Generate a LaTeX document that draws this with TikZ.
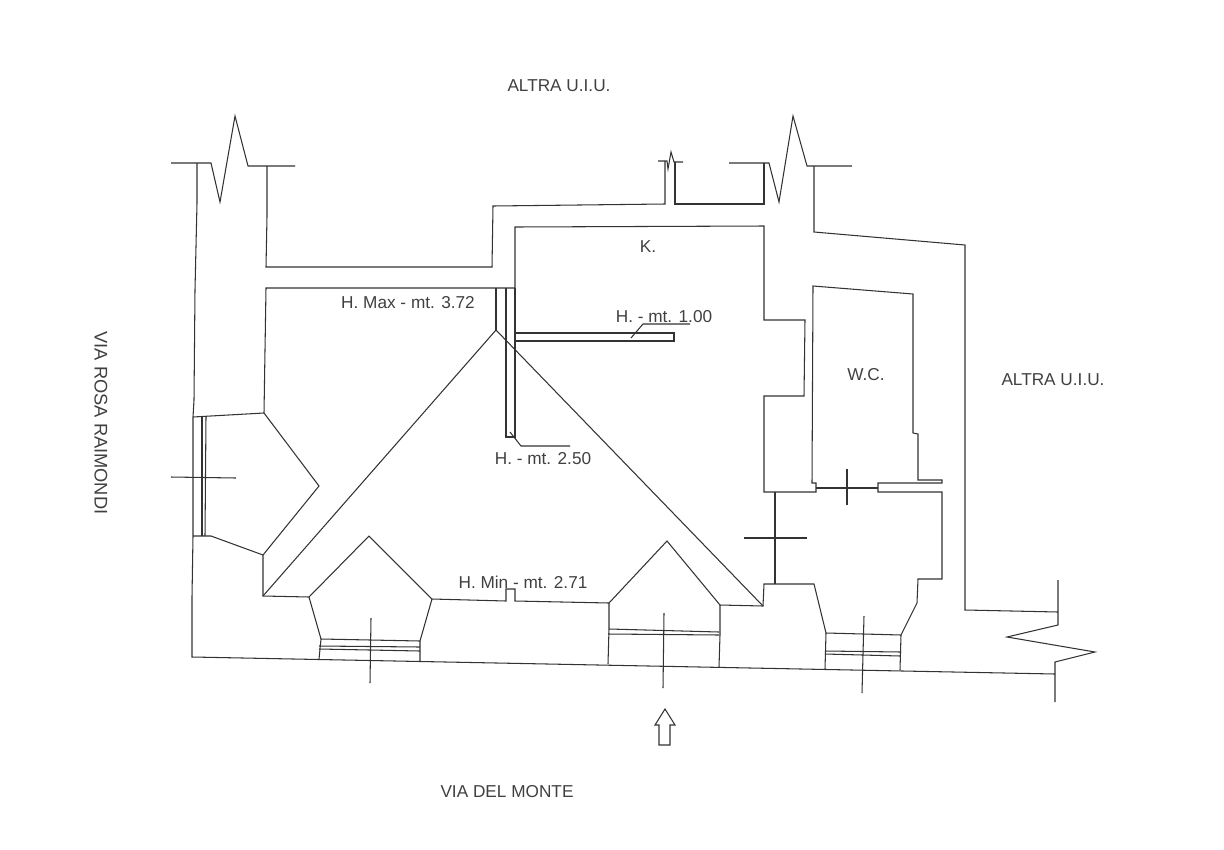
\documentclass[tikz,border=0pt]{standalone}
\usepackage{fontspec}
\setmainfont{Liberation Sans}
\tikzset{
  muro/.style={line width=0.6pt,black!80},
  scritta/.style={font=\fontsize{9.8}{11}\selectfont,black!75,inner sep=0pt},
}
\begin{document}
\begin{tikzpicture}[x=0.02cm,y=-0.02cm]
        \useasboundingbox (0,0) rectangle (1224,849);
        \draw[muro] (171,163)--(211,163)--(220,202)--(235,116)--(248,166)--(295,166);
        \draw[muro] (197,163)--(197,203)--(195,290)--(194,400)--(193,417)--(193,536)--(192,597)--(192,657)--(1055,674);
        \draw[muro] (267,166)--(267,216)--(266,267)--(492,267)--(493,206)--(665,204)--(665,161);
        \draw[muro] (658,161)--(667,161)--(668,169)--(671,152)--(674,162)--(683,162);
        \draw[muro] (675,162)--(675,204)--(764,204)--(764,163);
        \draw[muro] (729,163)--(769,163)--(779,202)--(793,116)--(807,166)--(852,166);
        \draw[muro] (814,166)--(814,232)--(965,245)--(965,610)--(1058,612);
        \draw[muro] (1058,580)--(1058,625)--(1007,637)--(1095,652)--(1055,662)--(1055,702);
        \draw[muro] (515,288)--(515,227)--(764,226)--(764,320)--(805,320)--(804,396)--(764,396)--(764,492)--(816,492)--(816,483)--(812,483)--(813,286)--(913,294)--(913,433)--(918,434)--(918,480)--(942,480)--(942,483)--(878,483)--(878,492)--(942,492)--(942,579)--(918,579)--(917,603)--(901,635)--(826,633)--(814,584)--(764,584)--(763,606)--(720,605)--(667,541)--(609,603)--(515,601)--(515,589)--(506,589)--(506,601)--(432,599)--(369,536)--(309,597)--(263,596)--(263,555)--(319,486)--(264,413)--(266,288)--(515,288);
        \draw[muro] (816,488)--(878,488);
        \draw[muro] (775,492)--(775,584);
        \draw[muro] (193,417)--(264,413);
        \draw[muro] (193,536)--(211,536)--(263,555);
        \draw[muro] (202,417)--(202,536);
        \draw[muro] (206,417)--(205,536);
        \draw[muro] (506,288)--(506,437)--(515,437)--(515,288);
        \draw[muro] (496,288)--(496,330);
        \draw[muro] (263,596)--(496,330)--(763,606);
        \draw[muro] (515,333)--(674,333)--(674,341)--(515,341);
        \draw[muro] (631,338)--(643,324)--(690,324);
        \draw[muro] (510,432)--(521,446)--(570,446);
        \draw[muro] (309,597)--(321,639)--(319,659);
        \draw[muro] (432,599)--(420,641)--(420,661);
        \draw[muro] (321,639)--(420,641);
        \draw[muro] (319,646)--(420,647);
        \draw[muro] (319,649)--(420,651);
        \draw[muro] (609,603)--(609,629)--(608,664);
        \draw[muro] (720,605)--(720,635)--(719,667);
        \draw[muro] (609,629)--(719,632);
        \draw[muro] (608,634)--(719,635);
        \draw[muro] (826,633)--(825,669);
        \draw[muro] (901,635)--(900,670);
        \draw[muro] (825,651)--(901,652);
        \draw[muro] (825,654)--(900,656);
        \draw[muro] (171,477)--(236,478);
        \draw[muro] (371,618)--(370,683);
        \draw[muro] (664,613)--(663,688);
        \draw[muro] (864,616)--(862,693);
        \draw[muro] (744,538)--(807,538);
        \draw[muro] (847,469)--(847,505);
        \draw[muro] (665,709)--(675,725)--(670,725)--(670,745)--(659,745)--(659,725)--(655,725)--cycle;
        \node[scritta] (altraNord) at (559,86) {ALTRA U.I.U.};
        \node[scritta] (altraEst) at (1053,380) {ALTRA U.I.U.};
        \node[scritta,font=\fontsize{10.4}{11}\selectfont,rotate=-90] (viaRosa) at (101,423) {VIA ROSA RAIMONDI};
        \node[scritta] (viaMonte) at (507,792) {VIA DEL MONTE};
        \node[scritta] (hMax) at (408,303) {H. Max - mt. 3.72};
        \node[scritta] (hUno) at (664,317) {H. - mt. 1.00};
        \node[scritta] (hDue) at (543,459) {H. - mt. 2.50};
        \node[scritta] (hMin) at (523,582) {H. Min - mt. 2.71};
        \node[scritta] (cucina) at (648,247) {K.};
        \node[scritta] (bagno) at (866,375) {W.C.};
    \end{tikzpicture}
\end{document}
